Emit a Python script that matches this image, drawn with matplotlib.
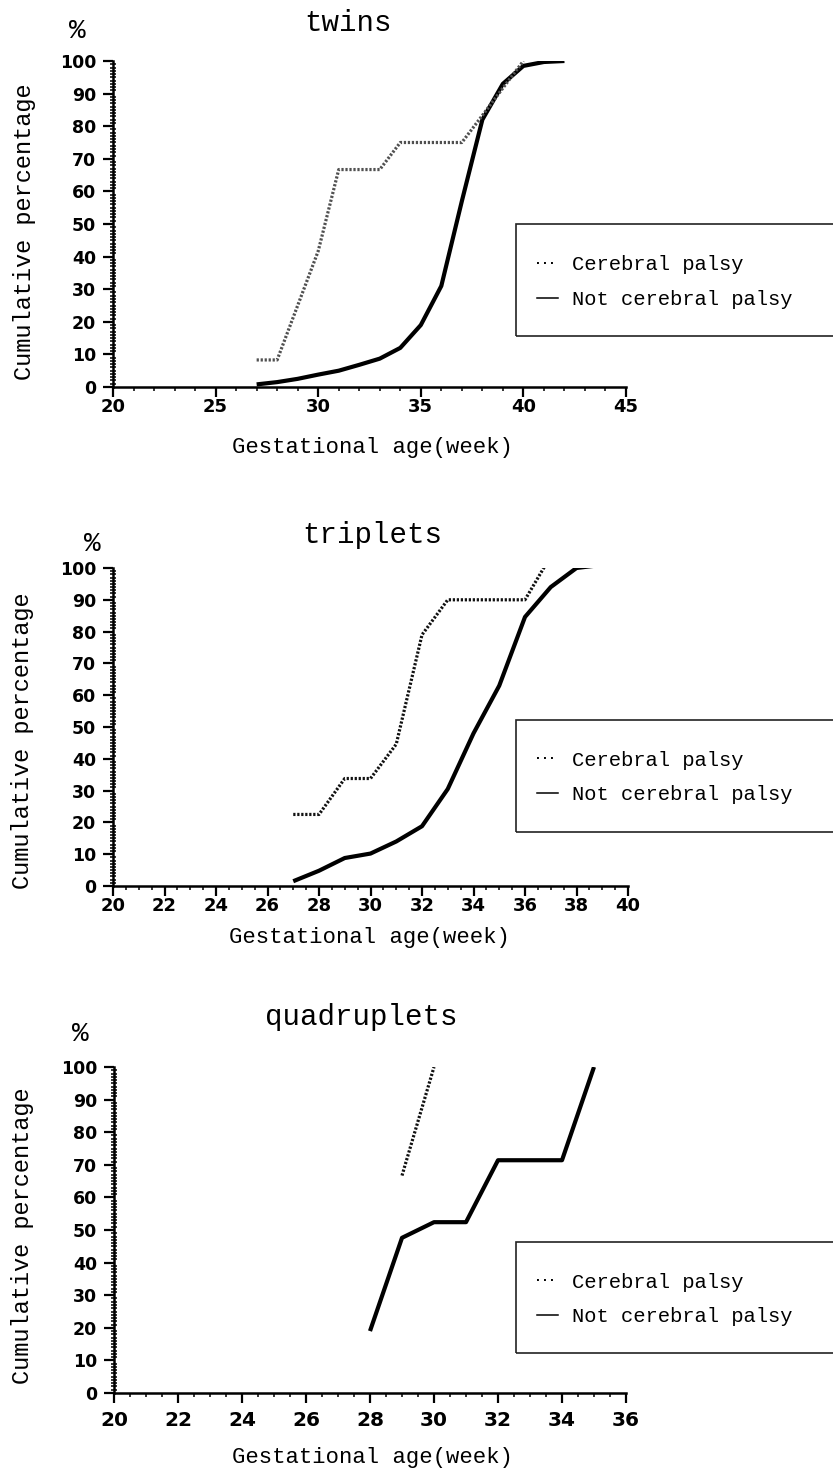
import matplotlib
matplotlib.use("Agg")
import matplotlib.pyplot as plt
from matplotlib.lines import Line2D
from matplotlib.patches import Rectangle
from matplotlib.ticker import MultipleLocator

# ---------------- data ----------------
twins_cp_x = [27, 28, 29, 30, 31, 32, 33, 34, 35, 36, 37, 38, 39, 40]
twins_cp_y = [8.3, 8.3, 25, 41.7, 66.7, 66.7, 66.7, 75, 75, 75, 75, 83.3, 91.7, 100]
twins_ncp_x = [27, 28, 29, 30, 31, 32, 33, 34, 35, 36, 37, 38, 39, 40, 41, 42]
twins_ncp_y = [0.8, 1.5, 2.5, 3.8, 5.0, 6.8, 8.7, 12, 19, 31, 57, 82, 93, 98.5, 99.7, 100]

trip_cp_x = [27, 28, 29, 30, 31, 32, 33, 34, 35, 36, 36.8]
trip_cp_y = [22.5, 22.5, 33.8, 33.8, 44.6, 79, 90, 90, 90, 90, 101]
trip_ncp_x = [27, 28, 29, 30, 31, 32, 33, 34, 35, 36, 37, 38, 39]
trip_ncp_y = [1.5, 4.8, 8.8, 10.2, 14.0, 18.8, 30.5, 48, 63, 84.6, 94, 100, 101]

quad_cp_x = [29, 30]
quad_cp_y = [66.7, 100]
quad_ncp_x = [28, 29, 30, 31, 32, 33, 34, 35]
quad_ncp_y = [19.0, 47.6, 52.4, 52.4, 71.4, 71.4, 71.4, 100]

titles = ["twins", "triplets", "quadruplets"]
x_limits = [(20, 45), (20, 40), (20, 36)]
x_major = [5, 2, 2]
x_minor = [1, 0.5, 0.5]
legend_labels = ["Cerebral palsy", "Not cerebral palsy"]
y_label = "Cumulative percentage"
x_label = "Gestational age(week)"

# ---------------- layout ----------------
W, H = 833, 1473
fig = plt.figure(figsize=(W / 100, H / 100), dpi=100)
MONO = ["Liberation Mono", "DejaVu Sans Mono"]


def fx(x):
    return x / W


def fy(y):
    return 1 - y / H


# pixel boxes: left, right, top(100), bottom(0)
boxes = [(113, 626, 61, 387), (113, 628, 568, 886), (114, 626, 1067, 1393)]
title_pos = [(348, 23), (372, 535), (361, 1017)]
pct_pos = [(77, 31), (92, 544), (80, 1034)]
ylab_pos = [(25, 232), (23, 741), (23, 1236)]
xlab_pos = [(372, 448), (369, 938), (372, 1457)]
legend_box = [(224, 336), (720, 832), (1242, 1353)]
legend_row1 = [265, 760, 1282]
x_pad = [1, 1, 6]

series = [
    (twins_cp_x, twins_cp_y, twins_ncp_x, twins_ncp_y, "#505050"),
    (trip_cp_x, trip_cp_y, trip_ncp_x, trip_ncp_y, "#111111"),
    (quad_cp_x, quad_cp_y, quad_ncp_x, quad_ncp_y, "#111111"),
]

for i in range(3):
    l, r, t, b = boxes[i]
    ax = fig.add_axes([fx(l), fy(b), (r - l) / W, (b - t) / H])
    cpx, cpy, nx, ny, cpc = series[i]
    ax.plot(nx, ny, color="black", lw=3.0, solid_capstyle="butt", zorder=3)
    ax.plot(cpx, cpy, color=cpc, lw=2.3, linestyle=(0, (0.7, 0.55)),
            dash_capstyle="butt", zorder=4)
    ax.set_xlim(*x_limits[i])
    ax.set_ylim(0, 100)
    ax.xaxis.set_major_locator(MultipleLocator(x_major[i]))
    ax.xaxis.set_minor_locator(MultipleLocator(x_minor[i]))
    ax.yaxis.set_major_locator(MultipleLocator(10))
    ax.yaxis.set_minor_locator(MultipleLocator(1))
    for s in ["top", "right"]:
        ax.spines[s].set_visible(False)
    for s in ["left", "bottom"]:
        ax.spines[s].set_linewidth(1.8)
    ax.tick_params(which="major", length=7, width=1.6, direction="out")
    ax.tick_params(axis="x", which="major", pad=x_pad[i])
    ax.tick_params(axis="y", which="major", pad=5)
    ax.tick_params(which="minor", length=3, width=1.1, direction="out")
    ax.tick_params(axis="y", which="minor", direction="inout", length=4)
    fsx = 13 if i < 2 else 14.5
    for lab in ax.get_xticklabels():
        lab.set_fontfamily("DejaVu Sans")
        lab.set_fontweight("bold")
        lab.set_fontsize(fsx)
    for lab in ax.get_yticklabels():
        lab.set_fontfamily("DejaVu Sans")
        lab.set_fontweight("bold")
        lab.set_fontsize(12.5)

    tx, ty = title_pos[i]
    fig.text(fx(tx), fy(ty), titles[i], family=MONO, fontsize=21,
             ha="center", va="center")
    px_, py_ = pct_pos[i]
    fig.text(fx(px_), fy(py_), "%", family=MONO, fontsize=20,
             ha="center", va="center")
    yx, yy = ylab_pos[i]
    fig.text(fx(yx), fy(yy), y_label, family=MONO, fontsize=17,
             rotation=90, ha="center", va="center")
    xx, xy = xlab_pos[i]
    fig.text(fx(xx), fy(xy), x_label, family=MONO, fontsize=16,
             ha="center", va="center")

    # legend frame (runs off the right edge, as in the original)
    lt, lb = legend_box[i]
    fig.patches.append(Rectangle((fx(516), fy(lb)), fx(900 - 516), (lb - lt) / H,
                                 transform=fig.transFigure, fill=False,
                                 edgecolor="#222222", linewidth=1.2,
                                 clip_on=False))
    handles = [Line2D([], [], color="black", lw=1.4, linestyle=(0, (1, 2.6))),
               Line2D([], [], color="black", lw=1.1, linestyle="-")]
    fig.legend(handles, legend_labels, loc="upper left",
               bbox_to_anchor=(fx(537), fy(legend_row1[i] - 9.5)),
               bbox_transform=fig.transFigure,
               borderaxespad=0, frameon=False,
               prop={"family": MONO, "size": 14.8},
               handlelength=1.0, handletextpad=0.7,
               borderpad=0, labelspacing=0.75)

fig.savefig("out.png", dpi=100, facecolor="white")
